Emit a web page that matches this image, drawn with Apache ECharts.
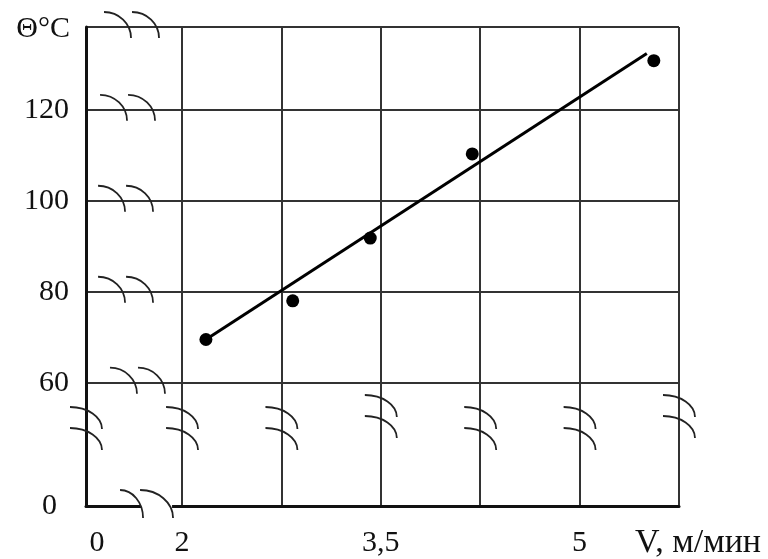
<!DOCTYPE html>
<html>
<head>
<meta charset="utf-8">
<script src="https://cdn.jsdelivr.net/npm/echarts@6/dist/echarts.min.js"></script>
<style>
  html, body { margin: 0; padding: 0; background: #fff; }
  #chart { width: 768px; height: 559px; }
</style>
</head>
<body>
<div id="chart"></div>
<script>
// Measured cutting temperature vs. cutting speed
const speedV = [2.18, 2.835, 3.42, 4.19, 5.56];
const tempTheta = [69.5, 78.0, 91.8, 110.3, 130.8];

// Fitted straight line (end points)
const fitV = [2.18, 5.507];
const fitTheta = [69.5, 132.4];

// Axis ranges (both axes are broken near the origin)
const xMin = 1.275, xMax = 5.75;
const yMin = 32.9, yMax = 138.2;

// Grid lines
const xGridValues = [2, 2.75, 3.5, 4.25, 5, 5.75];
const yGridValues = [60, 80, 100, 120, 138.2];

// Tick labels
const xLabelValues = [1.275, 2, 3.5, 5];
const xLabelTexts = ['0', '2', '3,5', '5'];
const yLabelValues = [32.9, 60, 80, 100, 120];
const yLabelTexts = ['0', '60', '80', '100', '120'];

// Axis-break marks: [x, y, kind]  kind 0 = on a horizontal line, 1 = on a vertical line, 2 = gap in x axis
const breakMarks = [
  [1.411, 138.2, 0], [1.381, 120, 0], [1.366, 100, 0], [1.366, 80, 0], [1.456, 60, 0],
  [1.532, 32.9, 2],
  [1.275, 54.66, 1], [2, 54.66, 1], [2.75, 54.66, 1], [3.5, 57.3, 1],
  [4.25, 54.66, 1], [5, 54.66, 1], [5.75, 57.3, 1]
];

const FONT = 'Liberation Serif';
const INK = '#111';
const FS = 30;

function labelFor(values, texts, v) {
  for (let i = 0; i < values.length; i++) {
    if (Math.abs(values[i] - v) < 1e-6) return texts[i];
  }
  return '';
}

function arc(x0, y0, w, h) {
  return {
    type: 'bezierCurve',
    shape: {
      x1: x0, y1: y0, x2: x0 + w, y2: y0 + h,
      cpx1: x0 + w * 0.55, cpy1: y0,
      cpx2: x0 + w, cpy2: y0 + h * 0.45
    },
    style: { stroke: '#222', lineWidth: 1.8, fill: null }
  };
}

function renderBreak(params, api) {
  const p = api.coord([api.value(0), api.value(1)]);
  const kind = api.value(2);
  const children = [];
  if (kind === 0) {
    children.push(arc(p[0], p[1] - 15, 27, 26));
    children.push(arc(p[0] + 28, p[1] - 15, 27, 26));
  } else if (kind === 1) {
    children.push(arc(p[0] - 16, p[1], 32, 22));
    children.push(arc(p[0] - 16, p[1] + 21, 32, 22));
  } else {
    children.push({
      type: 'rect',
      shape: { x: p[0] + 21, y: p[1] - 3, width: 31, height: 6 },
      style: { fill: '#fff' }
    });
    children.push(arc(p[0], p[1] - 16, 23, 28));
    children.push(arc(p[0] + 20, p[1] - 16, 33, 28));
  }
  return { type: 'group', children: children };
}

const chart = echarts.init(document.getElementById('chart'), null, { renderer: 'canvas' });

chart.setOption({
  animation: false,
  backgroundColor: '#fff',
  grid: { left: 86, right: 89, top: 27, bottom: 53, containLabel: false, outerBoundsMode: 'none' },
  xAxis: {
    type: 'value',
    min: xMin,
    max: xMax,
    name: 'V, м/мин',
    nameLocation: 'end',
    nameGap: -44,
    nameTextStyle: {
      fontFamily: FONT, fontSize: 34, color: INK,
      align: 'left', verticalAlign: 'top', lineHeight: 74
    },
    axisLine: { show: true, onZero: false, lineStyle: { color: INK, width: 3 } },
    axisTick: { show: false, customValues: xGridValues },
    splitLine: { show: true, lineStyle: { color: '#333', width: 2 } },
    axisLabel: {
      customValues: xLabelValues,
      margin: 22,
      fontFamily: FONT, fontSize: FS, color: INK,
      formatter: function (v) {
        const t = labelFor(xLabelValues, xLabelTexts, v);
        return Math.abs(v - xMin) < 1e-6 ? '{z|' + t + '}' : t;
      },
      rich: { z: { fontFamily: FONT, fontSize: FS, color: INK, padding: [0, 0, 0, 22] } }
    }
  },
  yAxis: {
    type: 'value',
    min: yMin,
    max: yMax,
    name: 'Θ°C',
    nameLocation: 'end',
    nameGap: -2,
    nameTextStyle: {
      fontFamily: FONT, fontSize: FS, color: INK,
      align: 'right', verticalAlign: 'middle', padding: [0, 16, 0, 0]
    },
    axisLine: { show: true, onZero: false, lineStyle: { color: INK, width: 3 } },
    axisTick: { show: false, customValues: yGridValues },
    splitLine: { show: true, lineStyle: { color: '#333', width: 2 } },
    axisLabel: {
      customValues: yLabelValues,
      margin: 17,
      fontFamily: FONT, fontSize: FS, color: INK,
      formatter: function (v) {
        const t = labelFor(yLabelValues, yLabelTexts, v);
        return Math.abs(v - yMin) < 1e-6 ? '{z|' + t + '}' : t;
      },
      rich: { z: { fontFamily: FONT, fontSize: FS, color: INK, padding: [0, 12, 0, 0] } }
    }
  },
  series: [
    {
      type: 'line',
      data: fitV.map((v, i) => [v, fitTheta[i]]),
      showSymbol: false,
      symbol: 'none',
      lineStyle: { color: '#000', width: 3 },
      z: 3
    },
    {
      type: 'scatter',
      data: speedV.map((v, i) => [v, tempTheta[i]]),
      symbol: 'circle',
      symbolSize: 13,
      itemStyle: { color: '#000', opacity: 1 },
      z: 4
    },
    {
      type: 'custom',
      data: breakMarks,
      clip: false,
      renderItem: renderBreak,
      z: 5,
      silent: true
    }
  ]
});
</script>
</body>
</html>
